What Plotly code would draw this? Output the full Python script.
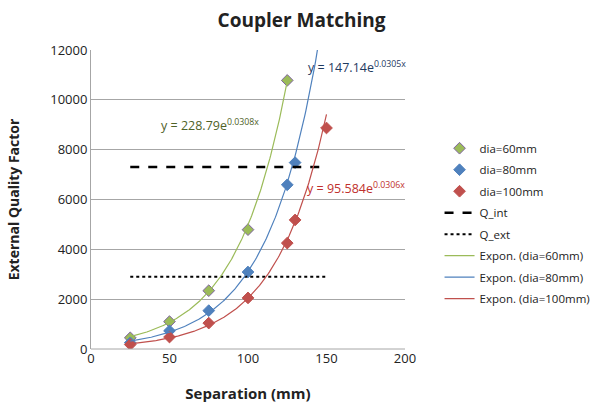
import numpy as np
import plotly.graph_objects as go

x60 = [25, 50, 75, 100, 125]
y60 = [450, 1100, 2340, 4790, 10780]
x80 = [25, 50, 75, 100, 125, 130]
y80 = [250, 730, 1540, 3090, 6590, 7480]
x100 = [25, 50, 75, 100, 125, 130, 150]
y100 = [180, 480, 1040, 2050, 4250, 5180, 8870]

q_int = 7300
q_ext = 2900
q_x = [25, 150]

fit_a = {"60": 228.79, "80": 147.14, "100": 95.584}
fit_b = {"60": 0.0308, "80": 0.0305, "100": 0.0306}
fit_xmax = {"60": 125, "80": 150, "100": 150}

y_ticks = [0, 2000, 4000, 6000, 8000, 10000, 12000]
x_ticks = [0, 50, 100, 150, 200]

c60, c80, c100 = "#9BBB59", "#4F81BD", "#C0504D"

fig = go.Figure()
def mk(x, y, name, color, line):
    fig.add_trace(go.Scatter(x=x, y=y, mode="markers", name=name, legendgroup=name,
        marker=dict(symbol="diamond", size=9, color=color, line=dict(color=line, width=1))))
mk(x60, y60, "dia=60mm", c60, "#8064A2")
mk(x80, y80, "dia=80mm", c80, c80)
mk(x100, y100, "dia=100mm", c100, c100)

fig.add_trace(go.Scatter(x=q_x, y=[q_int, q_int], mode="lines", name="Q_int", legendgroup="Q_int",
    line=dict(color="black", width=2.5, dash="dash")))
fig.add_trace(go.Scatter(x=q_x, y=[q_ext, q_ext], mode="lines", name="Q_ext", legendgroup="Q_ext",
    line=dict(color="black", width=2, dash="dot")))

for key, color in [("60", c60), ("80", c80), ("100", c100)]:
    xs = np.linspace(25, fit_xmax[key], 200)
    ys = fit_a[key] * np.exp(fit_b[key] * xs)
    nm = f"Expon. (dia={key}mm)"
    fig.add_trace(go.Scatter(x=xs, y=ys, mode="lines", name=nm, legendgroup=nm,
        line=dict(color=color, width=1.2)))

font = "Open Sans, Liberation Sans, sans-serif"
fig.add_annotation(x=0.685, y=0.943, xref="paper", yref="paper", xanchor="left", yanchor="middle",
    text="y = 147.14e<sup>0.0305x</sup>", showarrow=False, font=dict(size=12.5, color="#1F3A5F", family=font))
fig.add_annotation(x=0.215, y=0.749, xref="paper", yref="paper", xanchor="left", yanchor="middle",
    text="y = 228.79e<sup>0.0308x</sup>", showarrow=False, font=dict(size=12.5, color="#4F6228", family=font))
fig.add_annotation(x=0.68, y=0.538, xref="paper", yref="paper", xanchor="left", yanchor="middle",
    text="y = 95.584e<sup>0.0306x</sup>", showarrow=False, font=dict(size=12.5, color="#C0302D", family=font))

fig.update_layout(
    width=603, height=403,
    margin=dict(l=91, r=198, t=50, b=54, autoexpand=False),
    paper_bgcolor="white", plot_bgcolor="white",
    font=dict(family=font, size=13, color="#222"),
    title=dict(text="<b>Coupler Matching</b>", x=0.5, xanchor="center", y=0.95, yanchor="middle",
               font=dict(size=19, color="#222")),
    showlegend=True,
    legend=dict(x=1.11, y=0.72, xanchor="left", yanchor="top", font=dict(size=11.5),
                tracegroupgap=2.5, itemwidth=30, bgcolor="rgba(0,0,0,0)"),
    xaxis=dict(range=[0, 200], tickvals=x_ticks, ticktext=[str(v) for v in x_ticks],
               showgrid=False, zeroline=False, automargin=False,
               showline=False, ticks="", title=dict(text="<b>Separation (mm)</b>", font=dict(size=15), standoff=22)),
    yaxis=dict(range=[0, 12000], tickvals=y_ticks, ticktext=[str(v) for v in y_ticks],
               showgrid=True, gridcolor="#A6A6A6", automargin=False,
               gridwidth=1, zeroline=False, showline=True, linecolor="#A6A6A6", ticks="",
               title=dict(text="<b>External Quality Factor</b>", font=dict(size=14), standoff=27)),
)
fig.add_shape(type="line", xref="paper", yref="paper", x0=0, x1=1, y0=0, y1=0, line=dict(color="#A6A6A6", width=1))

fig.write_html("out.html", config={"displayModeBar": False},
               post_script="document.body.style.margin='0';")
